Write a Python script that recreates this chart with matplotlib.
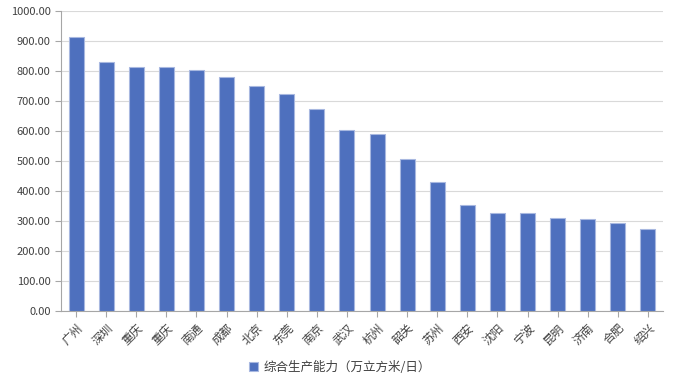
import matplotlib
matplotlib.use('Agg')
import matplotlib.pyplot as plt
import numpy as np

plt.rcParams['font.family'] = ['Noto Sans CJK SC', 'DejaVu Sans']

cities = ['广州', '深圳', '重庆', '重庆', '南通', '成都', '北京', '东莞', '南京', '武汉',
          '杭州', '韶关', '苏州', '西安', '沈阳', '宁波', '昆明', '济南', '合肥', '绍兴']
capacity = [912, 830, 812, 812, 803, 780, 749, 724, 673, 603,
            591, 508, 430, 353, 327, 326, 311, 308, 293, 272]
series_name = '综合生产能力（万立方米/日）'

fig = plt.figure(figsize=(6.76, 3.78), dpi=100)
ax = fig.add_axes([61 / 676, 1 - 311 / 378, 602 / 676, 300 / 378])

x = np.arange(len(cities))
ax.bar(x, capacity, width=0.5, color='#4E70BE', edgecolor='#A8B8E0', linewidth=0.8,
       label=series_name, zorder=3)

ax.set_xlim(-0.5, len(cities) - 0.5)
ax.set_ylim(0, 1000)
ax.set_yticks(np.arange(0, 1001, 100))
ax.set_yticklabels(['{:.2f}'.format(v) for v in np.arange(0, 1001, 100)])
ax.set_xticks(x)
ax.set_xticklabels(cities, rotation=45, ha='right', rotation_mode='anchor')

ax.grid(axis='y', color='#D9D9D9', linewidth=0.8, zorder=0)
for s in ['top', 'right']:
    ax.spines[s].set_visible(False)
ax.spines['left'].set_color('#A6A6A6')
ax.spines['bottom'].set_color('#A6A6A6')
ax.tick_params(axis='y', labelsize=8, colors='#404040', length=4, width=0.8)
ax.tick_params(axis='x', labelsize=8.5, colors='#404040', length=4, width=0.8)
ax.tick_params(axis='both', color='#A6A6A6')

fig.legend(loc='center', bbox_to_anchor=(340 / 676, 1 - 367 / 378), frameon=False,
           fontsize=9, handlelength=0.7, handleheight=0.7, handletextpad=0.4,
           labelcolor='#404040')

plt.savefig('out.png', dpi=100)
